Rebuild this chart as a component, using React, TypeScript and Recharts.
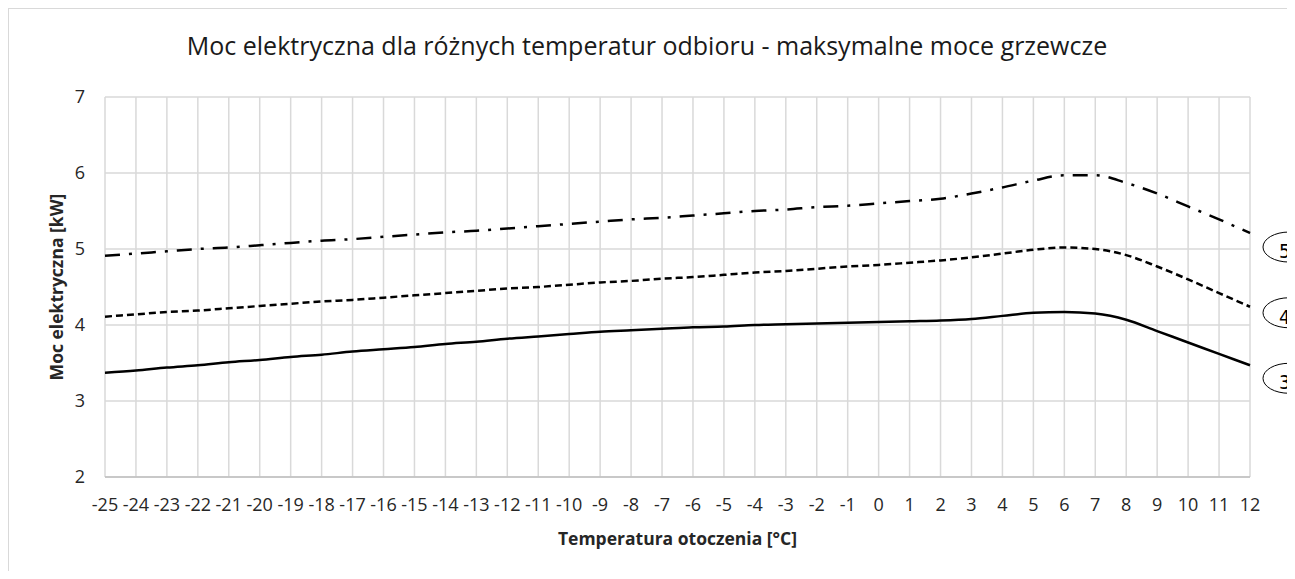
import React from 'react';
import { LineChart, Line, XAxis, YAxis, CartesianGrid } from 'recharts';

const temps = [
  -25, -24, -23, -22, -21, -20, -19, -18, -17, -16, -15, -14, -13, -12, -11, -10, -9, -8, -7,
  -6, -5, -4, -3, -2, -1, 0, 1, 2, 3, 4, 5, 6, 7, 8, 9, 10, 11, 12,
];

// odbiór 35°C (linia ciągła)
const power35 = [
  3.37, 3.4, 3.44, 3.47, 3.51, 3.54, 3.58, 3.61, 3.65, 3.68, 3.71, 3.75, 3.78, 3.82, 3.85, 3.88,
  3.91, 3.93, 3.95, 3.97, 3.98, 4.0, 4.01, 4.02, 4.03, 4.04, 4.05, 4.06, 4.08, 4.12, 4.16, 4.17,
  4.15, 4.07, 3.92, 3.77, 3.62, 3.47,
];

// odbiór 45°C (linia kreskowa)
const power45 = [
  4.11, 4.14, 4.17, 4.19, 4.22, 4.25, 4.28, 4.31, 4.33, 4.36, 4.39, 4.42, 4.45, 4.48, 4.5, 4.53,
  4.56, 4.58, 4.61, 4.63, 4.66, 4.69, 4.71, 4.74, 4.77, 4.79, 4.82, 4.85, 4.89, 4.94, 4.99, 5.02,
  5.0, 4.92, 4.77, 4.6, 4.42, 4.24,
];

// odbiór 55°C (kreska-kropka)
const power55 = [
  4.91, 4.94, 4.97, 5.0, 5.02, 5.05, 5.08, 5.11, 5.13, 5.16, 5.19, 5.22, 5.24, 5.27, 5.3, 5.33,
  5.36, 5.39, 5.41, 5.44, 5.47, 5.5, 5.52, 5.55, 5.57, 5.6, 5.63, 5.66, 5.73, 5.81, 5.9, 5.97,
  5.97, 5.87, 5.73, 5.56, 5.39, 5.21,
];

const yTicks = [2, 3, 4, 5, 6, 7];

const data = temps.map((t, i) => ({
  t,
  s35: power35[i],
  s45: power45[i],
  s55: power55[i],
}));

// owalne etykiety na końcu linii (wychodzą poza prawą krawędź, jak w oryginale)
const tagLabel = (text: string, dy: number) => (props: any) => {
  const { index } = props;
  if (index !== temps.length - 1) return <g />;
  const x = props.x ?? props.viewBox?.x;
  const y = props.y ?? props.viewBox?.y;
  const cx = x + 39;
  const cy = y + dy;
  return (
    <g>
      <ellipse cx={cx} cy={cy} rx={26} ry={15} fill="#fff" stroke="#000" strokeWidth={1} />
      <text
        x={cx - 10}
        y={cy + 11}
        textAnchor="start"
        fontSize={20}
        fontFamily="'Liberation Sans Narrow', 'DejaVu Sans Condensed', sans-serif"
        fill="#000"
      >
        {text}
      </text>
    </g>
  );
};

const font = "'Open Sans', sans-serif";

export default function App() {
  return (
    <div style={{ margin: -8, width: 1295, height: 579, position: 'relative', overflow: 'hidden', background: '#fff', fontFamily: font }}>
      <div
        style={{
          position: 'absolute',
          left: 0,
          top: 33,
          width: 1294,
          textAlign: 'center',
          fontSize: 25,
          lineHeight: '25px',
          color: '#1a1a1a',
        }}
      >
        Moc elektryczna dla różnych temperatur odbioru - maksymalne moce grzewcze
      </div>
      <LineChart width={1295} height={579} data={data} margin={{ top: 97, right: 45, bottom: 0, left: 0 }}>
        <CartesianGrid stroke="#d9d9d9" strokeWidth={1.5} />
        <XAxis
          dataKey="t"
          interval={0}
          height={102}
          tickLine={false}
          tickMargin={15}
          axisLine={{ stroke: '#bfbfbf', strokeWidth: 1.5 }}
          tick={{ fontSize: 18, fill: '#262626', fontFamily: font }}
          label={{
            value: 'Temperatura otoczenia [°C]',
            position: 'insideBottom',
            offset: 34,
            style: { fontSize: 17.5, fontWeight: 700, fill: '#262626', fontFamily: font },
          }}
        />
        <YAxis
          domain={[2, 7]}
          ticks={yTicks}
          width={105}
          tickLine={false}
          axisLine={false}
          tickMargin={14}
          tick={{ fontSize: 18, fill: '#262626', fontFamily: font }}
          label={{
            value: 'Moc elektryczna [kW]',
            angle: -90,
            position: 'insideLeft',
            offset: 57,
            style: { textAnchor: 'middle', fontSize: 17.5, fontWeight: 700, fill: '#262626', fontFamily: font },
          }}
        />
        <Line
          type="monotone"
          dataKey="s55"
          stroke="#000"
          strokeWidth={2.5}
          strokeDasharray="15 9 3 9"
          dot={false}
          activeDot={false}
          isAnimationActive={false}
          label={tagLabel('55', 14)}
        />
        <Line
          type="monotone"
          dataKey="s45"
          stroke="#000"
          strokeWidth={2.5}
          strokeDasharray="7 4"
          dot={false}
          activeDot={false}
          isAnimationActive={false}
          label={tagLabel('45', 6)}
        />
        <Line
          type="monotone"
          dataKey="s35"
          stroke="#000"
          strokeWidth={2.5}
          dot={false}
          activeDot={false}
          isAnimationActive={false}
          label={tagLabel('35', 13)}
        />
      </LineChart>
      <div
        style={{
          position: 'absolute',
          left: 7,
          top: 7,
          width: 1282,
          height: 600,
          border: '2px solid #d9d9d9',
          boxSizing: 'border-box',
          pointerEvents: 'none',
          zIndex: 2,
        }}
      />
    </div>
  );
}
